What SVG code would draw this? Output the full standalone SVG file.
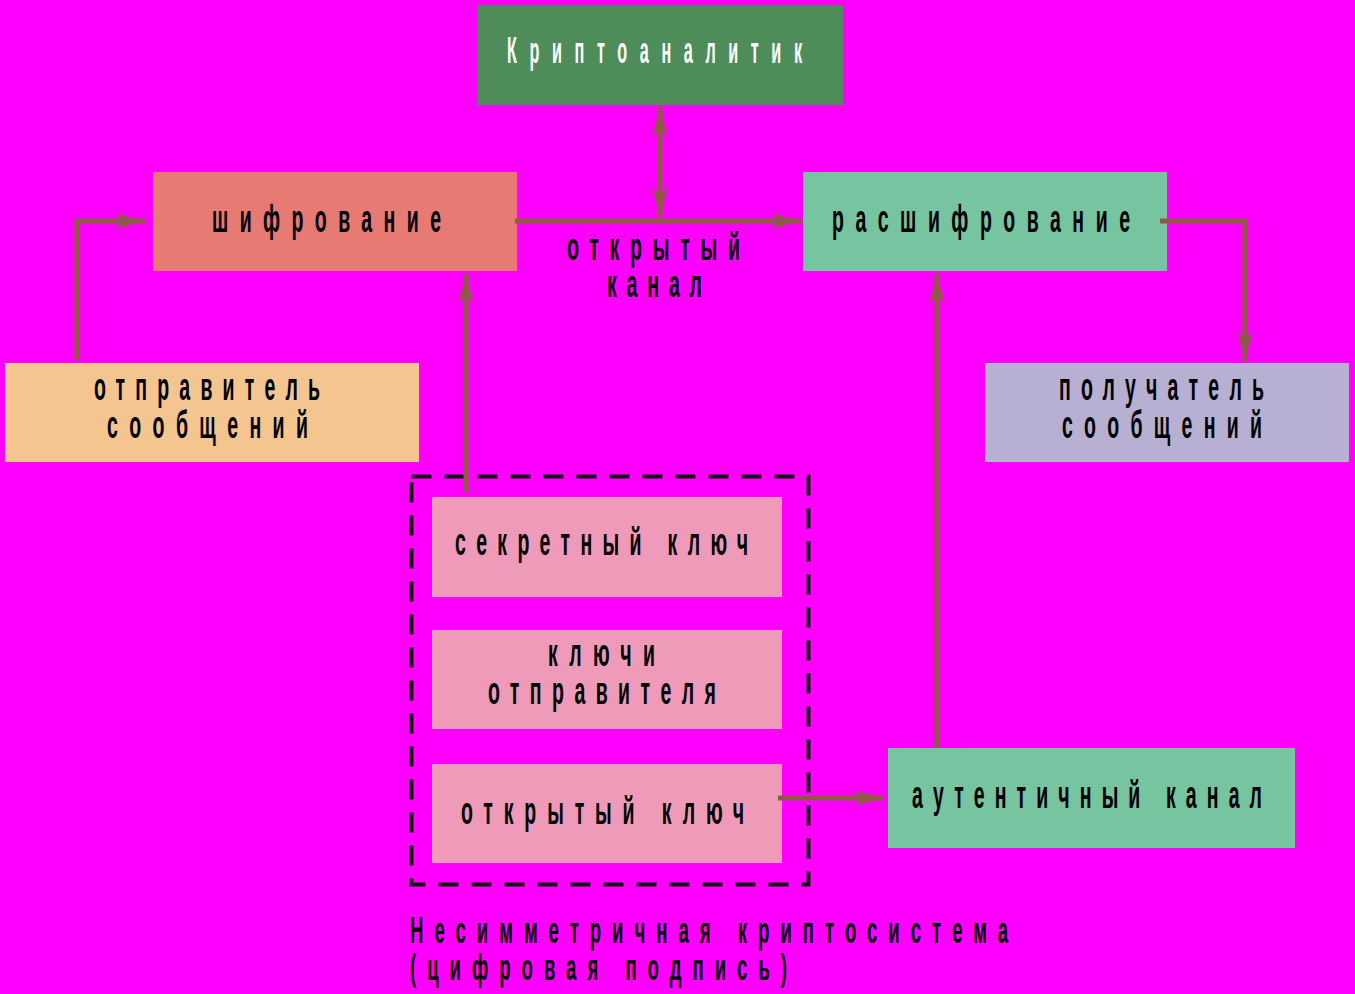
<svg xmlns="http://www.w3.org/2000/svg" width="1355" height="994" viewBox="0 0 1355 994">
<style>
.lbl{font-family:"Liberation Sans",Arial,sans-serif;font-weight:bold;font-size:39px;fill:#000}
.cap{font-family:"Liberation Sans",Arial,sans-serif;font-weight:bold;font-size:37px;fill:#000}
.wht{font-family:"Liberation Sans",Arial,sans-serif;font-weight:bold;font-size:36px;fill:#fff}
.conn{fill:none;stroke:#8E5A44;stroke-width:5}
</style>
<defs>
<marker id="ah" markerUnits="userSpaceOnUse" markerWidth="32" markerHeight="20" viewBox="-30 -10 32 20" refX="0" refY="0" orient="auto-start-reverse">
<path d="M0,0 L-29,-7.5 L-22,0 L-29,7.5 Z" fill="#8E5A44"/>
</marker>
</defs>
<rect x="0" y="0" width="1355" height="994" fill="#FF00FF"/>

<g id="cryptanalyst">
<rect x="478" y="5" width="365" height="100" fill="#4E8C5A"/>
<text class="wht" transform="scale(0.45 1)" x="1126.7" y="63" textLength="655.6" lengthAdjust="spacing">Криптоаналитик</text>
</g>

<g id="encryption">
<rect x="153" y="172" width="364" height="99" fill="#E87A74"/>
<text class="lbl" transform="scale(0.5 1)" x="424" y="232" textLength="458" lengthAdjust="spacing">шифрование</text>
</g>

<g id="decryption">
<rect x="803" y="172" width="364" height="99" fill="#76C4A0"/>
<text class="lbl" transform="scale(0.5 1)" x="1664" y="232" textLength="596" lengthAdjust="spacing">расшифрование</text>
</g>

<g id="sender">
<rect x="5" y="363" width="414" height="99" fill="#F5C590"/>
<text class="lbl" transform="scale(0.5 1)" x="188" y="400" textLength="452" lengthAdjust="spacing">отправитель</text>
<text class="lbl" transform="scale(0.5 1)" x="214" y="438" textLength="402" lengthAdjust="spacing">сообщений</text>
</g>

<g id="receiver">
<rect x="985" y="363" width="364" height="99" fill="#B8B0D2"/>
<text class="lbl" transform="scale(0.5 1)" x="2118" y="400" textLength="410" lengthAdjust="spacing">получатель</text>
<text class="lbl" transform="scale(0.5 1)" x="2124" y="438" textLength="400" lengthAdjust="spacing">сообщений</text>
</g>

<g id="cryptosystem">
<rect x="411.5" y="476.5" width="397" height="408" fill="none" stroke="#151515" stroke-width="4" stroke-dasharray="20 13"/>
<text class="cap" transform="scale(0.5 1)" x="820" y="943" textLength="1196" lengthAdjust="spacing">Несимметричная криптосистема</text>
<text class="cap" transform="scale(0.5 1)" x="820" y="980" textLength="754" lengthAdjust="spacing">(цифровая подпись)</text>
</g>

<g id="secret-key">
<rect x="432" y="497" width="350" height="100" fill="#EF9AB9"/>
<text class="lbl" transform="scale(0.5 1)" x="910" y="555" textLength="586" lengthAdjust="spacing">секретный ключ</text>
</g>

<g id="sender-keys">
<rect x="432" y="630" width="350" height="99" fill="#EF9AB9"/>
<text class="lbl" transform="scale(0.5 1)" x="1096" y="666" textLength="214" lengthAdjust="spacing">ключи</text>
<text class="lbl" transform="scale(0.5 1)" x="976" y="704" textLength="456" lengthAdjust="spacing">отправителя</text>
</g>

<g id="public-key">
<rect x="432" y="764" width="350" height="99" fill="#EF9AB9"/>
<text class="lbl" transform="scale(0.5 1)" x="922" y="824" textLength="566" lengthAdjust="spacing">открытый ключ</text>
</g>

<g id="auth-channel">
<rect x="888" y="748" width="407" height="100" fill="#76C4A0"/>
<text class="lbl" transform="scale(0.5 1)" x="1824" y="808" textLength="700" lengthAdjust="spacing">аутентичный канал</text>
</g>

<g id="connectors">
<path class="conn" d="M77,360 V221 H145" marker-end="url(#ah)"/>
<path class="conn" d="M466,492 V274" marker-end="url(#ah)"/>
<path class="conn" d="M515,221 H801" marker-end="url(#ah)"/>
<path class="conn" d="M660,217 V107" marker-start="url(#ah)" marker-end="url(#ah)"/>
<path class="conn" d="M1160,221 H1245 V361" marker-end="url(#ah)"/>
<path class="conn" d="M937,748 V274" marker-end="url(#ah)"/>
<path class="conn" d="M778,798 H884" marker-end="url(#ah)"/>
<text class="lbl" transform="scale(0.5 1)" x="1134" y="260" textLength="346" lengthAdjust="spacing">открытый</text>
<text class="lbl" transform="scale(0.5 1)" x="1214" y="297" textLength="190" lengthAdjust="spacing">канал</text>
</g>
</svg>
